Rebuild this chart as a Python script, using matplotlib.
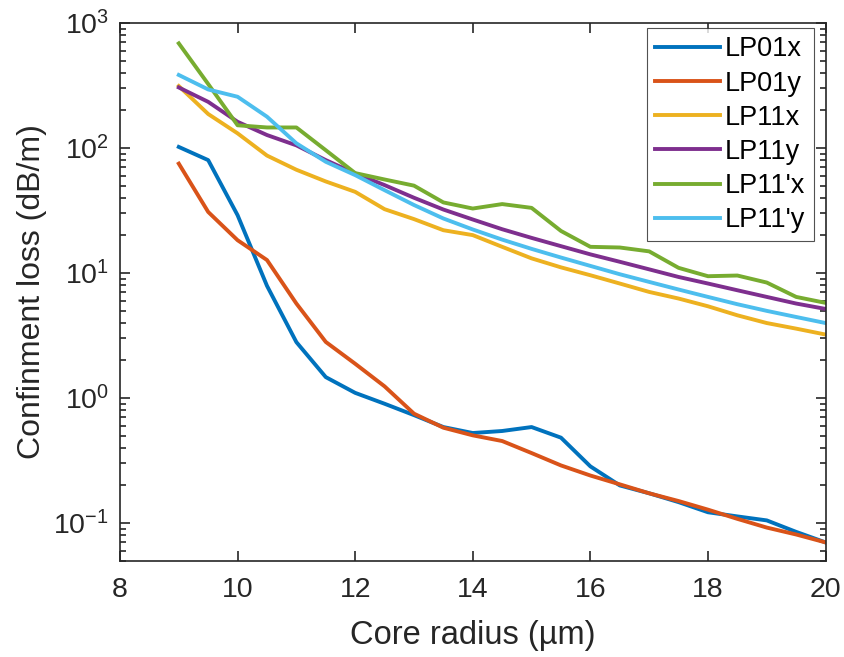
import numpy as np
import matplotlib
matplotlib.use('Agg')
import matplotlib.pyplot as plt
from matplotlib.ticker import LogLocator

plt.rcParams['font.family'] = 'Liberation Sans'
plt.rcParams['mathtext.fontset'] = 'custom'
plt.rcParams['mathtext.rm'] = 'Liberation Sans'
plt.rcParams['mathtext.it'] = 'Liberation Sans'

radius = [9, 9.5, 10, 10.5, 11, 11.5, 12, 12.5, 13, 13.5, 14, 14.5, 15, 15.5,
          16, 16.5, 17, 17.5, 18, 18.5, 19, 19.5, 20]

lp01x = [102, 80, 29, 7.9, 2.8, 1.47, 1.10, 0.90, 0.73, 0.586, 0.525, 0.545, 0.586, 0.482,
         0.284, 0.200, 0.173, 0.147, 0.122, 0.113, 0.105, 0.085, 0.070]
lp01y = [75, 30.8, 18.3, 12.7, 5.7, 2.81, 1.88, 1.24, 0.75, 0.579, 0.503, 0.453, 0.363, 0.289,
         0.240, 0.204, 0.173, 0.150, 0.128, 0.108, 0.092, 0.081, 0.070]
lp11x = [313, 187, 131, 87, 67, 54, 44.6, 32.4, 27, 22.0, 20.1, 16.2, 13.1, 11.1,
         9.6, 8.24, 7.06, 6.25, 5.42, 4.59, 3.98, 3.59, 3.22]
lp11y = [305, 234, 162, 127, 105, 80, 62.6, 50.5, 40, 32.2, 26.8, 22.4, 19.1, 16.4,
         14.1, 12.3, 10.7, 9.3, 8.24, 7.28, 6.44, 5.70, 5.16]
lp11px = [687, 325, 152, 146, 146, 96, 63, 56, 50, 36.7, 32.8, 35.6, 33.2, 21.7,
          16.2, 16.0, 14.9, 11.0, 9.43, 9.55, 8.39, 6.44, 5.77]
lp11py = [384, 294, 257, 178, 109, 77.6, 60.7, 46, 35, 27.3, 22.3, 18.5, 15.6, 13.3,
          11.4, 9.78, 8.49, 7.38, 6.44, 5.63, 4.98, 4.45, 3.98]

modes = ['LP01x', 'LP01y', 'LP11x', 'LP11y', "LP11'x", "LP11'y"]
colors = ['#0072BD', '#D95319', '#EDB120', '#7E2F8E', '#77AC30', '#4DBEEE']

fig = plt.figure(figsize=(8.45, 6.57), dpi=100)
ax = fig.add_axes([0.142, 0.1466, 0.835, 0.8184])

for y, name, c in zip([lp01x, lp01y, lp11x, lp11y, lp11px, lp11py], modes, colors):
    ax.plot(radius, y, color=c, lw=2.8, label=name)

ax.set_yscale('log')
ax.set_xlim(8, 20)
ax.set_ylim(0.05, 1000)
ax.set_xticks([8, 10, 12, 14, 16, 18, 20])
ax.yaxis.set_minor_locator(LogLocator(base=10, subs=np.arange(2, 10), numticks=20))
ax.tick_params(which='both', direction='in', top=True, right=True, labelsize=20.5,
               color='#262626', labelcolor='#262626', width=1.2)
ax.tick_params(which='major', length=7)
ax.tick_params(which='minor', length=4.5)
ax.tick_params(axis='x', pad=12)
ax.tick_params(axis='y', pad=8)
for s in ax.spines.values():
    s.set_linewidth(1.2)
    s.set_color('#262626')

ax.set_xlabel('Core radius (\u00b5m)', fontsize=23.5, color='#262626')
ax.set_ylabel('Confinment loss (dB/m)', fontsize=23, color='#262626')
ax.xaxis.set_label_coords(0.5, -0.11)
ax.yaxis.set_label_coords(-0.104, 0.5)

leg = ax.legend(loc='upper right', bbox_to_anchor=(0.983, 0.99), fontsize=19.5,
                frameon=True, fancybox=False, handlelength=2.4, handletextpad=0.2,
                labelspacing=0.3, borderpad=0.3, borderaxespad=0)
leg.get_frame().set_edgecolor('#262626')
leg.get_frame().set_linewidth(0.8)

fig.savefig('out.png', dpi=100)
